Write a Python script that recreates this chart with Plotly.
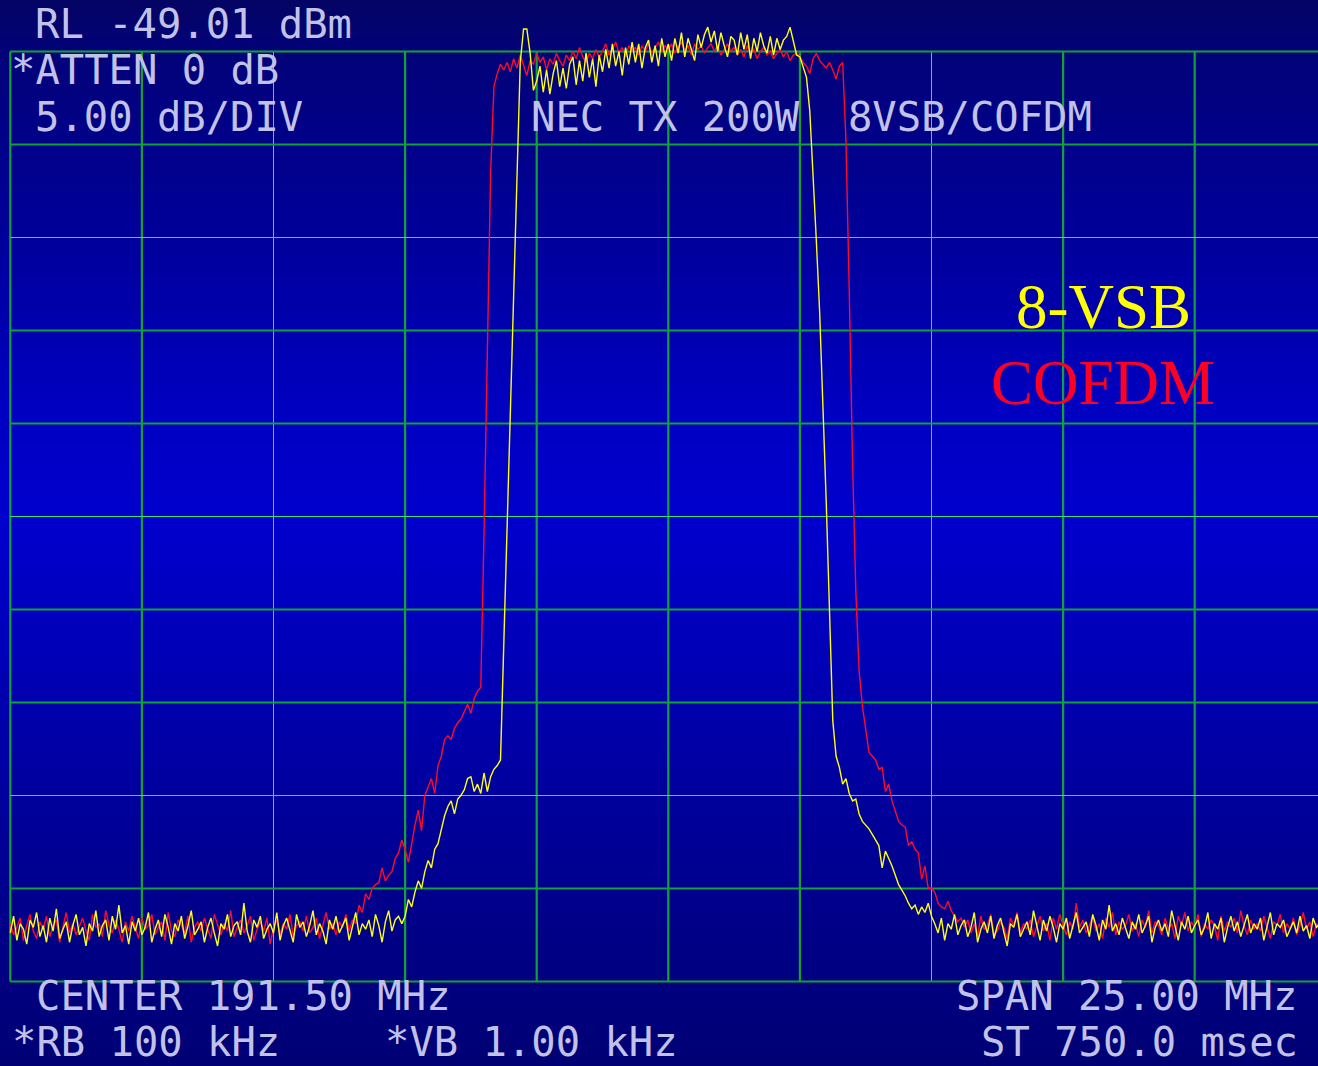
import numpy as np
import plotly.graph_objects as go

# Analyzer settings shown on screen
CENTER_MHZ = 191.50
SPAN_MHZ = 25.00
REF_LEVEL_DBM = -49.01
DB_PER_DIV = 5.0
N_DIV = 10
N_POINTS = 401

# 8-VSB trace (dBm), one value per sweep point
vsb_dbm = [
    -96.4, -95.5, -96.8, -95.9, -96.2, -97.0, -95.7, -96.1, -95.3, -96.6,
    -96.0, -96.9, -95.6, -96.3, -95.1, -96.7, -96.2, -95.8, -96.9, -96.0,
    -95.4, -96.5, -96.1, -97.1, -95.9, -96.3, -95.2, -96.6, -96.0, -95.7,
    -96.8, -95.5, -96.2, -94.9, -96.4, -96.0, -97.0, -95.8, -96.3, -95.6,
    -96.5, -96.1, -95.3, -96.9, -96.2, -95.7, -96.6, -95.4, -96.1, -97.0,
    -95.9, -96.3, -95.5, -96.7, -96.0, -95.2, -96.5, -96.2, -95.8, -96.9,
    -96.1, -95.6, -96.4, -97.1, -95.9, -96.2, -95.4, -96.6, -96.0, -95.8,
    -96.5, -94.8, -96.3, -96.9, -95.7, -96.1, -95.5, -96.7, -96.2, -95.9,
    -96.4, -95.3, -96.8, -96.0, -95.6, -96.3, -96.9, -95.4, -96.1, -95.8,
    -96.6, -96.0, -95.2, -96.5, -95.9, -96.3, -97.0, -95.7, -96.2, -95.5,
    -96.4, -96.0, -95.6, -96.8, -96.1, -95.3, -96.5, -95.9, -96.2, -95.7,
    -96.6, -95.4, -96.0, -96.9, -95.8, -95.2, -96.3, -95.7, -95.5, -95.9,
    -95.5, -94.6, -95.0, -94.2, -93.6, -94.0, -93.1, -92.5, -92.9, -91.9,
    -91.6, -90.8, -90.1, -89.6, -89.3, -90.0, -89.2, -89.0, -88.7, -88.1,
    -88.0, -88.8, -88.4, -88.9, -87.8, -88.8, -88.0, -87.6, -87.4, -87.1,
    -80.7, -74.3, -67.8, -61.4, -54.9, -49.6, -47.8, -47.8, -49.1, -51.1,
    -50.6, -49.8, -51.2, -50.0, -51.3, -50.2, -49.5, -50.9, -49.9, -51.0,
    -49.7, -49.3, -50.8, -49.5, -50.6, -49.1, -50.4, -49.4, -50.9, -49.2,
    -50.1, -48.9, -49.9, -48.6, -49.8, -49.0, -50.3, -48.8, -49.7, -48.5,
    -49.6, -48.6, -49.9, -48.8, -48.4, -49.6, -48.7, -49.8, -48.3, -49.3,
    -48.6, -49.5, -48.3, -49.1, -48.0, -49.3, -48.3, -48.9, -49.5, -48.1,
    -48.8, -48.1, -47.7, -48.5, -47.9, -49.0, -48.0, -48.7, -49.3, -48.2,
    -48.4, -49.2, -48.0, -48.9, -48.1, -49.4, -48.3, -49.0, -48.0, -48.7,
    -49.1, -48.2, -49.2, -48.3, -48.9, -48.4, -48.2, -47.7, -48.5, -49.2,
    -49.3, -49.8, -50.4, -52.2, -55.5, -59.2, -63.0, -67.8, -73.2, -79.1,
    -85.0, -86.9, -87.5, -88.4, -88.1, -88.9, -89.3, -89.2, -90.0, -90.4,
    -90.6, -90.8, -91.1, -91.4, -91.7, -92.9, -92.0, -92.4, -92.8, -93.3,
    -93.8, -94.1, -94.4, -94.8, -95.1, -94.9, -95.4, -95.0, -95.3, -94.8,
    -95.5, -95.9, -96.4, -95.6, -96.8, -95.9, -96.2, -95.4, -96.5, -96.0,
    -95.7, -96.6, -96.1, -95.3, -96.9, -96.2, -95.8, -96.4, -95.5, -96.7,
    -96.0, -95.6, -96.3, -97.1, -95.9, -96.1, -95.4, -96.6, -96.2, -95.8,
    -96.5, -95.2, -96.0, -96.8, -95.7, -96.3, -95.5, -96.1, -96.9, -95.9,
    -96.2, -95.6, -96.7, -96.0, -95.3, -96.4, -96.1, -95.8, -96.6, -95.4,
    -96.0, -96.8, -95.7, -96.2, -94.9, -96.3, -95.9, -96.5, -95.6, -96.1,
    -96.7, -95.8, -96.2, -95.4, -96.4, -96.0, -95.5, -96.9, -96.1, -95.7,
    -96.3, -95.9, -96.6, -95.2, -96.1, -96.8, -95.8, -96.2, -95.5, -96.4,
    -96.0, -95.7, -96.5, -96.1, -95.3, -96.7, -95.9, -96.2, -95.6, -96.9,
    -96.1, -95.5, -96.3, -95.8, -96.6, -96.0, -95.4, -96.4, -95.9, -96.2,
    -95.6, -96.8, -96.0, -95.3, -96.5, -95.9, -96.1, -95.7, -96.6, -96.2,
    -95.8, -96.4, -95.5, -96.3, -96.0, -96.7, -95.6, -96.1, -95.9, -96.4,
    -96.0,
]

# COFDM trace (dBm), one value per sweep point
cofdm_dbm = [
    -95.9, -96.5, -96.1, -95.6, -96.8, -96.0, -95.4, -96.3, -96.7, -95.8,
    -96.2, -95.5, -96.6, -96.0, -95.7, -96.9, -96.1, -95.3, -96.4, -95.9,
    -96.5, -96.0, -95.6, -96.3, -96.8, -95.4, -96.1, -95.9, -96.6, -95.2,
    -96.0, -96.4, -95.7, -96.2, -96.9, -95.8, -96.3, -95.5, -96.1, -96.7,
    -95.6, -96.2, -96.0, -95.4, -96.5, -96.1, -95.8, -96.8, -95.3, -96.3,
    -96.6, -95.7, -96.0, -96.4, -95.5, -96.9, -96.1, -95.8, -96.3, -95.6,
    -96.2, -96.7, -95.4, -96.0, -96.5, -95.9, -96.3, -95.2, -96.6, -96.1,
    -95.7, -96.4, -96.0, -95.5, -96.8, -96.2, -95.8, -96.3, -95.6, -97.0,
    -96.1, -95.7, -96.5, -95.9, -96.2, -95.4, -96.6, -96.0, -95.8, -96.3,
    -95.5, -96.4, -96.1, -95.6, -96.7, -96.0, -95.3, -96.2, -95.9, -96.5,
    -95.8, -96.1, -95.4, -96.3, -95.7, -95.9, -94.9, -95.3, -94.3, -94.6,
    -94.0, -93.8, -93.7, -92.9, -93.6, -93.3, -93.1, -92.4, -92.1, -91.4,
    -91.9, -92.6, -91.5, -90.6, -89.8, -90.9, -89.0, -88.5, -88.1, -88.9,
    -87.4, -86.9, -86.0, -85.8, -86.0, -85.4, -85.1, -84.9, -84.5, -84.1,
    -84.6, -83.8, -83.4, -83.2, -74.8, -64.0, -55.5, -50.9, -50.2, -49.7,
    -50.0, -49.6, -50.1, -49.4, -49.9, -49.2, -49.8, -50.3, -49.5, -49.7,
    -49.1, -49.6, -49.3, -50.0, -49.4, -49.7, -49.1, -49.5, -49.8, -49.2,
    -49.5, -49.0, -49.4, -48.8, -49.3, -49.6, -49.1, -49.4, -48.9, -49.3,
    -49.0, -48.6, -49.2, -48.9, -48.5, -49.1, -48.8, -49.3, -48.7, -49.0,
    -48.8, -49.2, -48.7, -49.0, -48.6, -49.1, -48.8, -48.5, -49.0, -48.7,
    -48.9, -48.6, -49.1, -48.8, -48.5, -49.0, -48.7, -49.2, -48.6, -48.9,
    -48.7, -49.1, -48.8, -48.6, -49.0, -48.7, -49.2, -48.9, -48.6, -49.0,
    -48.8, -49.2, -48.9, -49.3, -48.7, -49.1, -48.9, -49.4, -49.0, -48.8,
    -49.2, -49.0, -49.4, -49.1, -48.9, -49.3, -49.0, -49.5, -49.2, -49.1,
    -49.3, -49.6, -49.8, -50.2, -49.4, -49.1, -49.5, -49.7, -49.9, -49.6,
    -50.0, -50.5, -49.8, -49.6, -53.8, -61.9, -71.0, -78.0, -82.3, -84.2,
    -85.5, -86.7, -86.9, -87.1, -87.6, -87.5, -88.8, -88.4, -89.3, -89.9,
    -90.4, -90.6, -90.7, -91.7, -91.5, -91.9, -92.1, -93.5, -92.8, -94.0,
    -94.0, -94.2, -94.8, -95.0, -95.1, -94.7, -95.2, -95.5, -95.8, -95.6,
    -96.1, -95.7, -96.4, -95.9, -96.6, -95.5, -96.2, -96.0, -95.4, -96.5,
    -96.3, -95.8, -96.1, -96.7, -95.6, -96.0, -95.3, -96.4, -95.9, -96.2,
    -95.7, -96.6, -96.1, -95.5, -96.3, -95.9, -96.8, -95.6, -96.2, -95.4,
    -96.0, -96.5, -95.8, -96.2, -94.8, -96.1, -95.7, -96.4, -96.0, -95.5,
    -96.3, -95.9, -96.7, -95.6, -96.1, -95.3, -96.5, -95.8, -96.2, -96.0,
    -95.4, -96.3, -95.9, -96.6, -95.7, -96.1, -95.2, -96.4, -95.8, -96.0,
    -96.5, -95.6, -96.2, -95.9, -96.7, -95.5, -96.0, -95.3, -96.3, -95.8,
    -96.1, -95.4, -96.6, -95.9, -96.2, -95.7, -96.0, -96.8, -95.5, -96.3,
    -95.8, -96.1, -95.6, -96.4, -95.2, -96.0, -96.5, -95.7, -96.2, -95.9,
    -96.3, -95.5, -96.1, -96.7, -95.8, -96.0, -95.4, -96.4, -95.9, -96.2,
    -95.6, -96.5, -96.0, -95.3, -96.2, -95.8, -96.6, -95.9, -96.1, -95.7,
    -96.0,
]

# Screen annotations: text, left edge and vertical centre (pixels)
header_lines = [
    ("RL -49.01 dBm", 37, 24),
    ("*ATTEN 0 dB", 37 - 24.5, 70),
    ("5.00 dB/DIV", 37, 117),
    ("NEC TX 200W\u00a0\u00a08VSB/COFDM", 533, 117),
    ("CENTER 191.50 MHz", 38, 996),
    ("*RB 100 kHz", 38 - 24.5, 1042),
    ("*VB 1.00 kHz", 411 - 24.5, 1042),
    ("SPAN 25.00 MHz", 958, 996),
    ("ST 750.0 msec", 983, 1042),
]
legend_labels = [("8-VSB", "#ffff00", 304), ("COFDM", "#ff0022", 380)]

W, H = 1318, 1066
freq_mhz = np.linspace(CENTER_MHZ - SPAN_MHZ / 2, CENTER_MHZ + SPAN_MHZ / 2, N_POINTS)

# Screen geometry of the graticule (pixels)
GRID_LEFT, GRID_TOP = 10.3, 51.5
PX_PER_DIV_X = 131.6
PX_PER_DIV_Y = 93.0
mhz_per_div = SPAN_MHZ / N_DIV
px_per_mhz = PX_PER_DIV_X / mhz_per_div
px_per_db = PX_PER_DIV_Y / DB_PER_DIV

f_start = CENTER_MHZ - SPAN_MHZ / 2
x_lo = f_start - GRID_LEFT / px_per_mhz
x_hi = x_lo + W / px_per_mhz
y_hi = REF_LEVEL_DBM + GRID_TOP / px_per_db
y_lo = y_hi - H / px_per_db
bottom_db = REF_LEVEL_DBM - N_DIV * DB_PER_DIV

fig = go.Figure()
fig.add_trace(go.Scatter(x=freq_mhz, y=cofdm_dbm, mode="lines",
                         line=dict(color="#ff0a2a", width=1.4), name="COFDM"))
fig.add_trace(go.Scatter(x=freq_mhz, y=vsb_dbm, mode="lines",
                         line=dict(color="#ffff10", width=1.4), name="8-VSB"))

shapes = []

# Vertical blue screen gradient
stops = [(0, (4, 4, 100)), (50, (2, 2, 120)), (240, (0, 0, 155)), (420, (0, 0, 195)),
         (520, (0, 0, 205)), (640, (0, 0, 186)), (800, (0, 0, 156)),
         (980, (0, 0, 128)), (1066, (0, 0, 116))]


def screen_color(py):
    for (p0, c0), (p1, c1) in zip(stops[:-1], stops[1:]):
        if p0 <= py <= p1:
            t = (py - p0) / (p1 - p0)
            r, g, b = (round(a + (bb - a) * t) for a, bb in zip(c0, c1))
            return f"rgb({r},{g},{b})"
    return "rgb(0,0,116)"


band = 6
for top in range(0, H, band):
    shapes.append(dict(type="rect", xref="paper", yref="paper", layer="below",
                       x0=0, x1=1, y0=1 - min(H, top + band + 1) / H, y1=1 - top / H,
                       fillcolor=screen_color(top + band / 2), line=dict(width=0)))

THICK = dict(color="#12a038", width=2.2)
THIN = dict(color="#35e070", width=1.0)

# Graticule: vertical divisions
for k in range(N_DIV):
    fx = f_start + k * mhz_per_div
    shapes.append(dict(type="line", xref="x", yref="y", layer="below",
                       x0=fx, x1=fx, y0=bottom_db, y1=REF_LEVEL_DBM,
                       line=THIN if k in (2, 7) else THICK))
# Graticule: horizontal divisions
for k in range(N_DIV + 1):
    ly = REF_LEVEL_DBM - k * DB_PER_DIV
    shapes.append(dict(type="line", xref="x", yref="y", layer="below",
                       x0=f_start, x1=x_hi, y0=ly, y1=ly,
                       line=THIN if k in (2, 5, 8) else THICK))

annotations = []
for text, px, py in header_lines:
    annotations.append(dict(text=text, xref="paper", yref="paper",
                            x=(px - 4) / W, y=1 - py / H,
                            xanchor="left", yanchor="middle", showarrow=False,
                            font=dict(family="DejaVu Sans Mono", size=40.5, color="#c2c2e8")))
for text, color, py in legend_labels:
    annotations.append(dict(text=text, xref="paper", yref="paper",
                            x=1103 / W, y=1 - (py + 3) / H,
                            xanchor="center", yanchor="middle", showarrow=False,
                            font=dict(family="Liberation Serif", size=63, color=color)))

fig.update_layout(
    width=W, height=H,
    margin=dict(l=0, r=0, t=0, b=0),
    paper_bgcolor="#000078", plot_bgcolor="rgba(0,0,0,0)",
    showlegend=False,
    xaxis=dict(range=[x_lo, x_hi], visible=False, fixedrange=True),
    yaxis=dict(range=[y_lo, y_hi], visible=False, fixedrange=True),
    shapes=shapes, annotations=annotations,
)

fig.write_html("out.html")
